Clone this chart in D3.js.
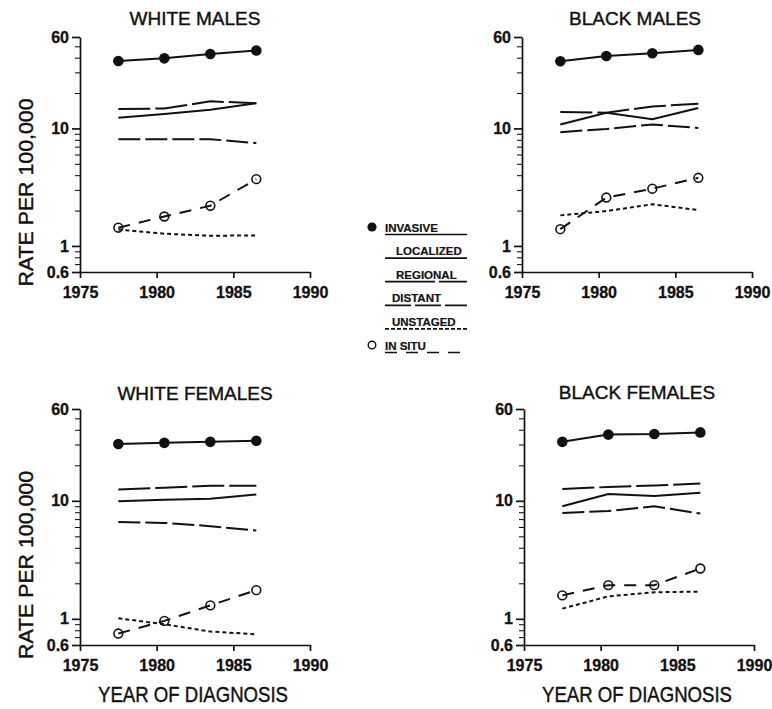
<!DOCTYPE html>
<html>
<head>
<meta charset="utf-8">
<script src="https://cdn.jsdelivr.net/npm/d3@7"></script>
<style>
  body { margin: 0; background: #fff; }
  svg { display: block; font-family: "Liberation Sans", Arial, sans-serif; }
</style>
</head>
<body>
<script>
// diagnosis years (midpoints of the 3-year periods) and axis ticks
var years = [1977.5, 1980.5, 1983.5, 1986.5];
var xTicks = [1975, 1980, 1985, 1990];
var yTicks = [0.6, 1, 10, 60];
var yMinor = [0.7, 0.8, 0.9, 2, 3, 4, 5, 6, 7, 8, 9, 20, 30, 40, 50];
var stages = ["INVASIVE", "LOCALIZED", "REGIONAL", "DISTANT", "UNSTAGED", "IN SITU"];

// white males
var wmInvasive = [37.5, 39.5, 43, 46];
var wmLocalized = [12.3, 13.3, 14.4, 16.4];
var wmRegional = [14.6, 14.8, 17.0, 16.4];
var wmDistant = [8.1, 8.1, 8.1, 7.5];
var wmUnstaged = [1.38, 1.27, 1.22, 1.23];
var wmInSitu = [1.43, 1.78, 2.2, 3.7];

// black males
var bmInvasive = [37.3, 41.4, 43.7, 46.6];
var bmLocalized = [10.8, 13.6, 12.0, 14.9];
var bmRegional = [13.8, 13.6, 15.4, 16.2];
var bmDistant = [9.3, 9.9, 10.8, 10.1];
var bmUnstaged = [1.82, 1.98, 2.26, 2.02];
var bmInSitu = [1.39, 2.58, 3.07, 3.8];

// white females
var wfInvasive = [30.3, 31, 31.6, 32.3];
var wfLocalized = [9.9, 10.2, 10.4, 11.3];
var wfRegional = [12.5, 12.9, 13.4, 13.4];
var wfDistant = [6.6, 6.5, 6.1, 5.6];
var wfUnstaged = [1.01, 0.9, 0.78, 0.74];
var wfInSitu = [0.75, 0.96, 1.3, 1.75];

// black females
var bfInvasive = [31.6, 36.4, 36.8, 38];
var bfLocalized = [9.0, 11.4, 11.0, 11.7];
var bfRegional = [12.6, 13.1, 13.5, 14.0];
var bfDistant = [7.9, 8.2, 9.0, 7.8];
var bfUnstaged = [1.22, 1.55, 1.68, 1.7];
var bfInSitu = [1.58, 1.93, 1.93, 2.67];

// line style per stage
var dash = {
  "INVASIVE": null,
  "LOCALIZED": null,
  "REGIONAL": "32,5",
  "DISTANT": "22,5",
  "UNSTAGED": "4,3",
  "IN SITU": "12,9"
};

var panels = [
  { title: "WHITE MALES", left: 80, right: 310, top: 37, bottom: 272, titleX: 195, titleY: 25, ylab: true, xlab: false,
    series: [wmInvasive, wmLocalized, wmRegional, wmDistant, wmUnstaged, wmInSitu] },
  { title: "BLACK MALES", left: 522, right: 752, top: 37, bottom: 272, titleX: 635, titleY: 25, ylab: false, xlab: false,
    series: [bmInvasive, bmLocalized, bmRegional, bmDistant, bmUnstaged, bmInSitu] },
  { title: "WHITE FEMALES", left: 80, right: 310, top: 409, bottom: 645, titleX: 195, titleY: 400, ylab: true, xlab: true,
    series: [wfInvasive, wfLocalized, wfRegional, wfDistant, wfUnstaged, wfInSitu] },
  { title: "BLACK FEMALES", left: 524, right: 754, top: 409, bottom: 645, titleX: 637, titleY: 399, ylab: false, xlab: true,
    series: [bfInvasive, bfLocalized, bfRegional, bfDistant, bfUnstaged, bfInSitu] }
];

var svg = d3.select("body")
  .append("svg")
  .attr("width", 772)
  .attr("height", 709);

panels.forEach(function(p) {
  var x = d3.scaleLinear().domain([1975, 1990]).range([p.left, p.right]);
  var y = d3.scaleLog().domain([0.6, 60]).range([p.bottom, p.top]);

  var g = svg.append("g");

  // minor y ticks
  g.append("g")
    .attr("transform", "translate(" + p.left + ",0)")
    .call(d3.axisLeft(y).tickValues(yMinor).tickSize(5).tickSizeOuter(0).tickFormat(""))
    .call(function(a) { a.select(".domain").remove(); });

  // major y ticks + labels
  var ya = g.append("g")
    .attr("transform", "translate(" + p.left + ",0)")
    .call(d3.axisLeft(y).tickValues(yTicks).tickSize(8).tickSizeOuter(0)
      .tickPadding(3).tickFormat(function(d) { return d3.format("")(d); }));

  // x axis
  var xa = g.append("g")
    .attr("transform", "translate(0," + p.bottom + ")")
    .call(d3.axisBottom(x).tickValues(xTicks).tickSize(6).tickSizeOuter(0)
      .tickPadding(9).tickFormat(d3.format("d")));

  [ya, xa].forEach(function(a) {
    a.selectAll("path, line").attr("stroke", "#111").attr("stroke-width", 1.7);
    a.selectAll("text")
      .attr("fill", "#111")
      .attr("stroke", "#111")
      .attr("stroke-width", 0.3)
      .style("font-size", "16px")
      .style("font-weight", "bold");
  });

  var line = d3.line()
    .x(function(d, i) { return x(years[i]); })
    .y(function(d) { return y(d); });

  p.series.forEach(function(vals, k) {
    var st = stages[k];
    g.append("path")
      .datum(vals)
      .attr("d", line)
      .attr("fill", "none")
      .attr("stroke", "#111")
      .attr("stroke-width", 2)
      .attr("stroke-dasharray", dash[st]);
  });

  // invasive filled markers
  g.selectAll(".inv")
    .data(p.series[0])
    .enter().append("circle")
    .attr("cx", function(d, i) { return x(years[i]); })
    .attr("cy", function(d) { return y(d); })
    .attr("r", 5.3)
    .attr("fill", "#111");

  // in situ open markers
  g.selectAll(".situ")
    .data(p.series[5])
    .enter().append("circle")
    .attr("cx", function(d, i) { return x(years[i]); })
    .attr("cy", function(d) { return y(d); })
    .attr("r", 4.4)
    .attr("fill", "none")
    .attr("stroke", "#111")
    .attr("stroke-width", 1.6);

  g.append("text")
    .attr("x", p.titleX)
    .attr("y", p.titleY)
    .attr("text-anchor", "middle")
    .attr("fill", "#111")
    .attr("stroke", "#111")
    .attr("stroke-width", 0.4)
    .style("font-size", "19px")
    .text(p.title);

  if (p.ylab) {
    var cy = (p.top + p.bottom) / 2 + 38;
    g.append("text")
      .attr("transform", "translate(33," + cy + ") rotate(-90)")
      .attr("text-anchor", "middle")
      .attr("fill", "#111")
      .attr("stroke", "#111")
      .attr("stroke-width", 0.4)
      .attr("textLength", 188)
      .attr("lengthAdjust", "spacingAndGlyphs")
      .style("font-size", "21px")
      .text("RATE PER 100,000");
  }

  if (p.xlab) {
    g.append("text")
      .attr("x", (p.left + p.right) / 2 - 2)
      .attr("y", 702)
      .attr("text-anchor", "middle")
      .attr("fill", "#111")
      .attr("stroke", "#111")
      .attr("stroke-width", 0.4)
      .attr("textLength", 190)
      .attr("lengthAdjust", "spacingAndGlyphs")
      .style("font-size", "22px")
      .text("YEAR OF DIAGNOSIS");
  }
});

// legend in the middle
var legend = svg.append("g");
var rowY = d3.scalePoint().domain(stages).range([227, 345]);
var textX = { "INVASIVE": 385, "LOCALIZED": 396, "REGIONAL": 396, "DISTANT": 392, "UNSTAGED": 392, "IN SITU": 385 };
var legendDash = { "INVASIVE": null, "LOCALIZED": null, "REGIONAL": "50,4", "DISTANT": "26,4", "UNSTAGED": "4,2", "IN SITU": "12,9" };

stages.forEach(function(st) {
  var yy = rowY(st);
  legend.append("text")
    .attr("x", textX[st])
    .attr("y", yy + 4.5)
    .attr("fill", "#111")
    .attr("stroke", "#111")
    .attr("stroke-width", 0.2)
    .style("font-size", "11.5px")
    .style("font-weight", "bold")
    .text(st);
  legend.append("line")
    .attr("x1", 385).attr("x2", 467)
    .attr("y1", yy + 7.5).attr("y2", yy + 7.5)
    .attr("stroke", "#111")
    .attr("stroke-width", 1.7)
    .attr("stroke-dasharray", legendDash[st]);
});

legend.append("circle").attr("cx", 372).attr("cy", rowY("INVASIVE")).attr("r", 4.6).attr("fill", "#111");
legend.append("circle").attr("cx", 372).attr("cy", rowY("IN SITU")).attr("r", 3.8)
  .attr("fill", "none").attr("stroke", "#111").attr("stroke-width", 1.4);
</script>
</body>
</html>
